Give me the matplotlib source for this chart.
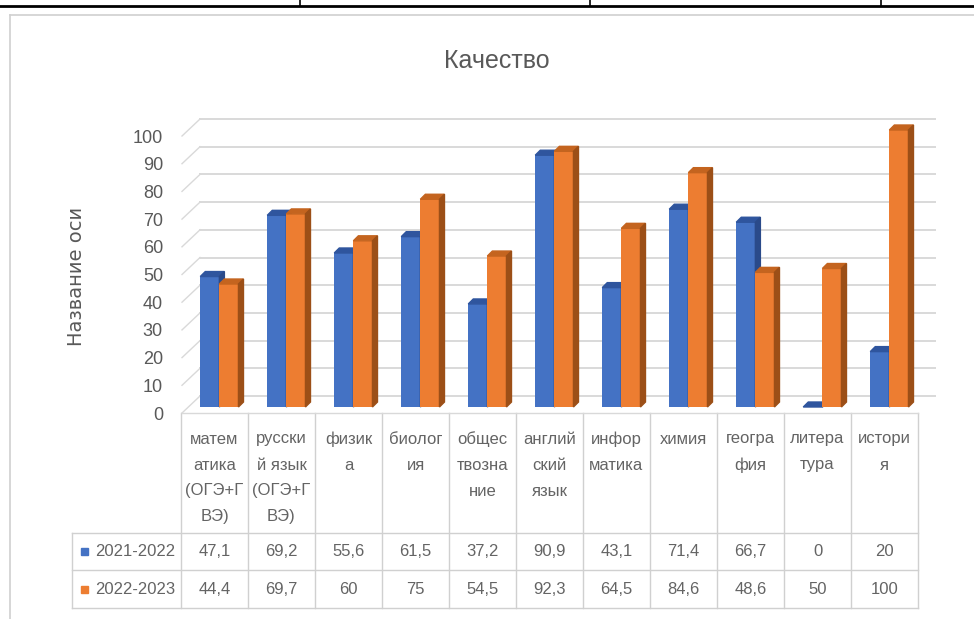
import matplotlib
matplotlib.use("Agg")
import matplotlib.pyplot as plt
from matplotlib.patches import Polygon, Rectangle
from matplotlib.transforms import ScaledTranslation
import numpy as np

plt.rcParams['font.family'] = ['Liberation Sans', 'DejaVu Sans']

categories = ['матем\nатика\n(ОГЭ+Г\nВЭ)', 'русски\nй язык\n(ОГЭ+Г\nВЭ)', 'физик\nа',
              'биолог\nия', 'общес\nтвозна\nние', 'англий\nский\nязык',
              'инфор\nматика', 'химия', 'геогра\nфия', 'литера\nтура', 'истори\nя']
series_names = ['2021-2022', '2022-2023']
vals_2122 = [47.1, 69.2, 55.6, 61.5, 37.2, 90.9, 43.1, 71.4, 66.7, 0, 20]
vals_2223 = [44.4, 69.7, 60, 75, 54.5, 92.3, 64.5, 84.6, 48.6, 50, 100]
yticks = list(range(0, 101, 10))

title = 'Качество'
ylabel = 'Название оси'

W, H = 974, 619
txt = '#595959'
tab_txt = '#646464'
grid = '#d9d9d9'
front = ['#4472c4', '#ed7d31']
top = ['#2f559e', '#c4641f']
side = ['#2a4a8a', '#9c4f17']


def fx(px):
    return px / W


def fy(py):
    return 1 - py / H


fig = plt.figure(figsize=(W / 100, H / 100), dpi=100)

# overlay in pixel units for frame + data table
ov = fig.add_axes([0, 0, 1, 1])
ov.set_xlim(0, W)
ov.set_ylim(H, 0)
ov.axis('off')

# document table border on top
ov.plot([0, W], [6, 6], color='black', lw=2)
for xv in [300, 590, 881]:
    ov.plot([xv, xv], [0, 6], color='black', lw=1.2)
# chart frame
ov.plot([10, 10], [15, H], color='#d0d0d0', lw=1.2)
ov.plot([10, W], [15, 15], color='#d0d0d0', lw=1.2)

# main plot axes
ax = fig.add_axes([fx(181), fy(407), 737 / W, 277 / H])
ax.set_xlim(-0.5, 10.5)
ax.set_ylim(0, 100)
ax.patch.set_alpha(0)
for s in ax.spines.values():
    s.set_visible(False)
ax.set_xticks([])
ax.set_yticks(yticks)
ax.tick_params(axis='y', length=0, pad=13, labelsize=13, labelcolor=txt)
shift = ScaledTranslation(0, -0.06, fig.dpi_scale_trans)
for lab in ax.get_yticklabels():
    lab.set_transform(lab.get_transform() + shift)

# 3d-ish walls
back_dy = 3.97
front_dy = -2.17
wall_x0, wall_x1, front_x0 = -0.216, 10.754, -0.485
for v in yticks:
    ax.plot([wall_x0, wall_x1], [v + back_dy] * 2, color=grid, lw=1.4,
            clip_on=False, zorder=1)
    ax.plot([front_x0, wall_x0], [v + front_dy, v + back_dy], color=grid,
            lw=1.0, clip_on=False, zorder=1)
ax.plot([front_x0, 10.5], [front_dy] * 2, color=grid, lw=1.0, clip_on=False, zorder=1)

# bars with top and side faces
x = np.arange(len(categories))
bw = 0.285
dx, dy = 0.075, 1.8
offsets = [-0.07, 0.215]
for k, vals in enumerate([vals_2122, vals_2223]):
    xs = x + offsets[k]
    ax.bar(xs, vals, width=bw, color=front[k], zorder=3 + 2 * k, clip_on=False)
    for xc, v in zip(xs, vals):
        xl, xr = xc - bw / 2, xc + bw / 2
        ax.add_patch(Polygon([(xl, v), (xl + dx, v + dy), (xr + dx, v + dy), (xr, v)],
                             closed=True, color=top[k], zorder=3 + 2 * k, clip_on=False))
        ax.add_patch(Polygon([(xr, 0), (xr + dx, dy), (xr + dx, v + dy), (xr, v)],
                             closed=True, color=side[k], zorder=3 + 2 * k, clip_on=False))

# title and axis name
fig.text(fx(497), fy(61), title, ha='center', va='center', fontsize=18, color=txt)
fig.text(fx(76), fy(276), ylabel, ha='center', va='center', rotation=90,
         fontsize=14, color=txt, family=['DejaVu Sans'])

# data table
col_x0, col_w = 181, 67
n = len(categories)
tab_top, r1, r2, r3 = 413, 533, 570, 608
leg_x0 = 72
tc = '#d0d0d0'
for i in range(n + 1):
    xv = col_x0 + i * col_w
    ov.plot([xv, xv], [tab_top, r3], color=tc, lw=1)
for yv in [r1, r2, r3]:
    ov.plot([leg_x0, col_x0 + n * col_w], [yv, yv], color=tc, lw=1)
ov.plot([leg_x0, leg_x0], [r1, r3], color=tc, lw=1)

for i, lab in enumerate(categories):
    cx = col_x0 + (i + 0.5) * col_w
    for j, line in enumerate(lab.split('\n')):
        ov.text(cx, 439 + 26 * j, line, ha='center', va='center', fontsize=12, color=tab_txt)


def fmt(v):
    return '{:g}'.format(v).replace('.', ',')


for k, (vals, yc) in enumerate([(vals_2122, (r1 + r2) / 2), (vals_2223, (r2 + r3) / 2)]):
    ov.add_patch(Rectangle((81, yc - 3.5), 7, 7, color=front[k]))
    ov.text(95, yc, series_names[k], ha='left', va='center', fontsize=12, color=tab_txt)
    for i, v in enumerate(vals):
        cx = col_x0 + (i + 0.5) * col_w
        ov.text(cx, yc, fmt(v), ha='center', va='center', fontsize=12, color=tab_txt)

fig.savefig('out.png', dpi=100, facecolor='white')
